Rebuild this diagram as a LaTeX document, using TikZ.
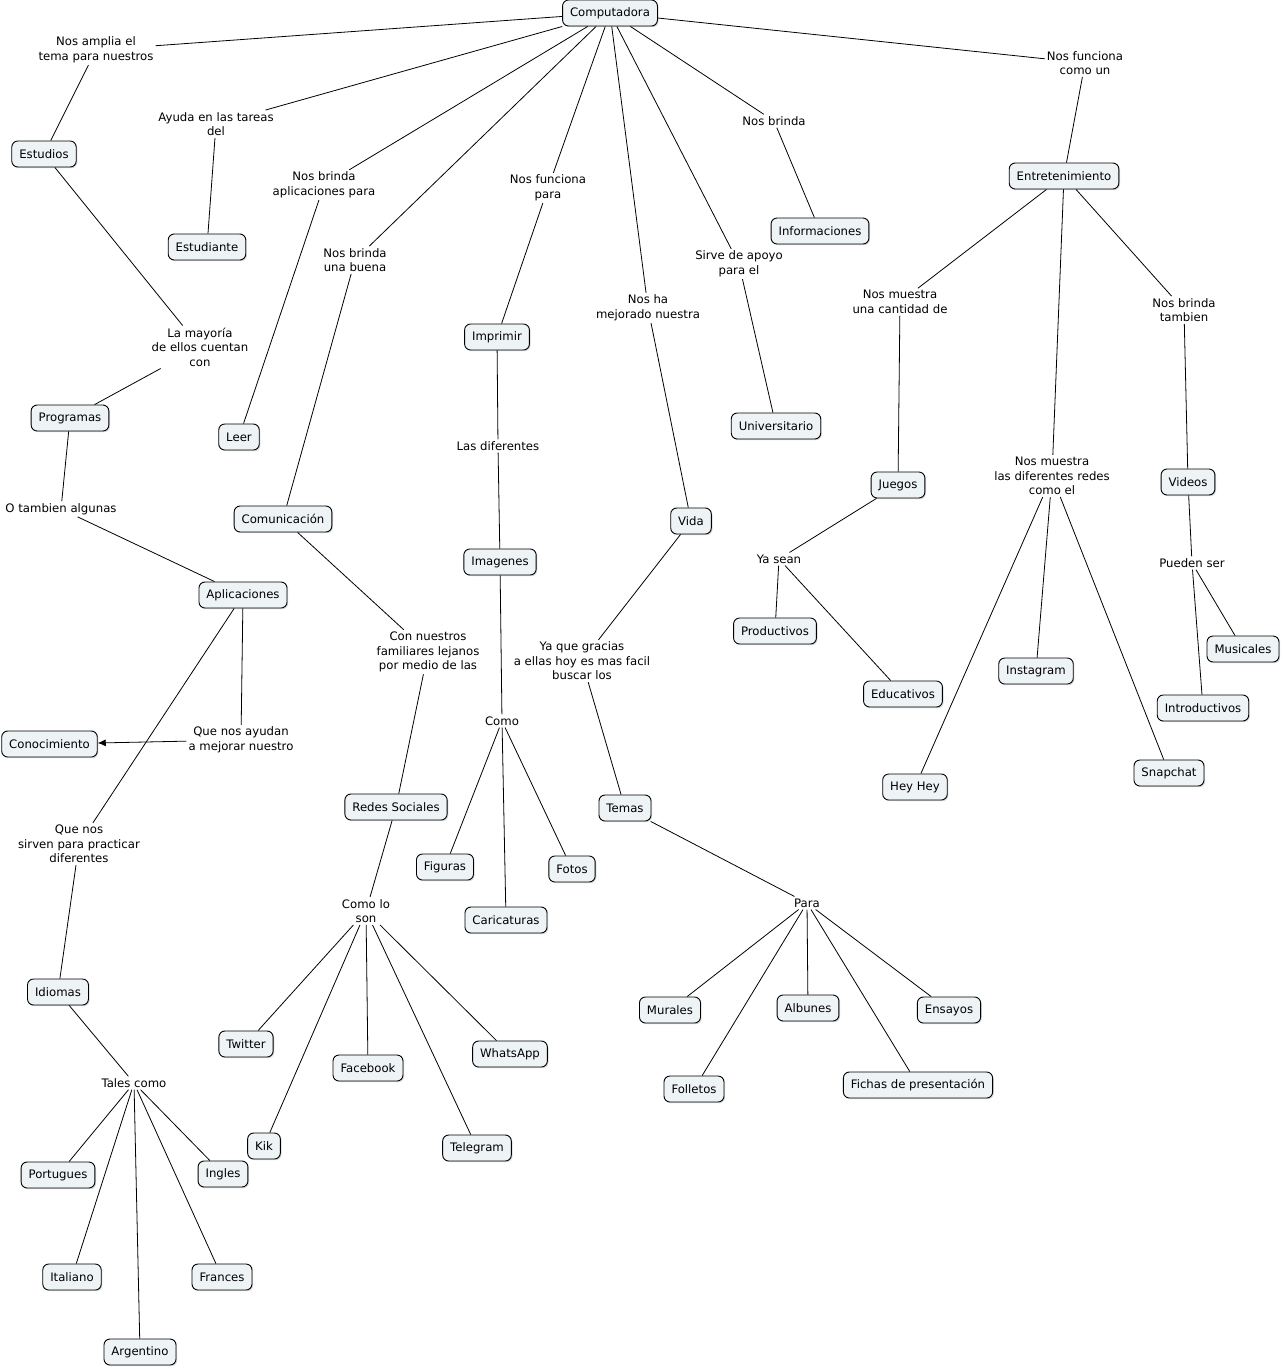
\documentclass[tikz,border=0pt]{standalone}
\usepackage{fontspec}
\setmainfont{DejaVu Sans}
\usetikzlibrary{shadows,arrows.meta}
\definecolor{cfill}{HTML}{EEF3F5}
\tikzset{
  concept/.style={draw=black, fill=cfill, rounded corners=6pt, line width=0.9pt,
    minimum height=26pt, inner xsep=7.5pt, inner ysep=3pt,
    font=\fontsize{11.7}{14}\selectfont,
    drop shadow={shadow xshift=1.2pt, shadow yshift=-1.2pt, fill=black!30, opacity=0.5}},
  lphrase/.style={inner sep=2pt, align=center, font=\fontsize{11.7}{14.5}\selectfont},
  conn/.style={line width=0.8pt, black},
}
\begin{document}
\begin{tikzpicture}[x=1pt,y=-1pt]
\useasboundingbox (0,0) rectangle (1283,1369);
% concepts
\node[concept] (comp) at (610,13) {Computadora};
\node[concept] (estudios) at (44,154) {Estudios};
\node[concept] (estudiante) at (207,247) {Estudiante};
\node[concept] (leer) at (239,437) {Leer};
\node[concept] (programas) at (70,418) {Programas};
\node[concept] (aplicaciones) at (243,595) {Aplicaciones};
\node[concept] (conocimiento) at (49.5,744) {Conocimiento};
\node[concept] (idiomas) at (58,992) {Idiomas};
\node[concept] (portugues) at (58,1175) {Portugues};
\node[concept] (ingles) at (223,1174) {Ingles};
\node[concept] (italiano) at (72,1277) {Italiano};
\node[concept] (frances) at (222,1277) {Frances};
\node[concept] (argentino) at (140,1352) {Argentino};
\node[concept] (comunicacion) at (283,519) {Comunicación};
\node[concept] (redes) at (396,807) {Redes Sociales};
\node[concept] (twitter) at (246,1044) {Twitter};
\node[concept] (facebook) at (368,1068) {Facebook};
\node[concept] (whatsapp) at (510,1054) {WhatsApp};
\node[concept] (kik) at (264,1146) {Kik};
\node[concept] (telegram) at (477,1148) {Telegram};
\node[concept] (imprimir) at (497,337) {Imprimir};
\node[concept] (imagenes) at (500,562) {Imagenes};
\node[concept] (figuras) at (445,867) {Figuras};
\node[concept] (caricaturas) at (506,920) {Caricaturas};
\node[concept] (fotos) at (572,869) {Fotos};
\node[concept] (vida) at (691,521) {Vida};
\node[concept] (temas) at (625,808) {Temas};
\node[concept] (murales) at (670,1010) {Murales};
\node[concept] (albunes) at (808,1008) {Albunes};
\node[concept] (ensayos) at (949,1010) {Ensayos};
\node[concept] (folletos) at (694,1089) {Folletos};
\node[concept] (fichas) at (918,1085) {Fichas de presentación};
\node[concept] (universitario) at (776,426) {Universitario};
\node[concept] (informaciones) at (820,231) {Informaciones};
\node[concept] (entretenimiento) at (1064,176) {Entretenimiento};
\node[concept] (juegos) at (898,485) {Juegos};
\node[concept] (productivos) at (775,631) {Productivos};
\node[concept] (educativos) at (903,694) {Educativos};
\node[concept] (instagram) at (1036,671) {Instagram};
\node[concept] (heyhey) at (915,787) {Hey Hey};
\node[concept] (snapchat) at (1169,773) {Snapchat};
\node[concept] (videos) at (1188,482) {Videos};
\node[concept] (musicales) at (1243,649) {Musicales};
\node[concept] (introductivos) at (1203,708) {Introductivos};
% linking phrases
\node[lphrase] (l1) at (96,50) {Nos amplia el\\tema para nuestros};
\node[lphrase] (l2) at (216,124) {Ayuda en las tareas\\del};
\node[lphrase] (l3) at (324,185) {Nos brinda\\aplicaciones para};
\node[lphrase] (l4) at (355,260) {Nos brinda\\una buena};
\node[lphrase] (l5) at (548,188) {Nos funciona\\para};
\node[lphrase] (l6) at (648,308) {Nos ha\\mejorado nuestra};
\node[lphrase] (l7) at (739,264) {Sirve de apoyo\\para el};
\node[lphrase] (l8) at (774,121) {Nos brinda};
\node[lphrase] (l9) at (1085,63) {Nos funciona\\como un};
\node[lphrase] (l10) at (200,347) {La mayoría\\de ellos cuentan\\con};
\node[lphrase] (l11) at (61,509) {O tambien algunas};
\node[lphrase] (l12) at (241,740) {Que nos ayudan\\a mejorar nuestro};
\node[lphrase] (l13) at (79,844) {Que nos\\sirven para practicar\\diferentes};
\node[lphrase] (l14) at (134,1083) {Tales como};
\node[lphrase] (l15) at (428,652) {Con nuestros\\familiares lejanos\\por medio de las};
\node[lphrase] (l16) at (366,911) {Como lo\\son};
\node[lphrase] (l17) at (498,446) {Las diferentes};
\node[lphrase] (l18) at (502,721) {Como};
\node[lphrase] (l19) at (582,661) {Ya que gracias\\a ellas hoy es mas facil\\buscar los};
\node[lphrase] (l20) at (807,903) {Para};
\node[lphrase] (l21) at (900,302) {Nos muestra\\una cantidad de};
\node[lphrase] (l22) at (1052,476) {Nos muestra\\las diferentes redes\\como el};
\node[lphrase] (l23) at (1184,310) {Nos brinda\\tambien};
\node[lphrase] (l24) at (779,559) {Ya sean};
\node[lphrase] (l25) at (1192,563) {Pueden ser};
% connectors
\begin{scope}[conn]
\draw (comp) -- (l1); \draw (l1) -- (estudios);
\draw (comp) -- (l2); \draw (l2) -- (estudiante);
\draw (comp) -- (l3); \draw (l3) -- (leer);
\draw (comp) -- (l4); \draw (l4) -- (comunicacion);
\draw (comp) -- (l5); \draw (l5) -- (imprimir);
\draw (comp) -- (l6); \draw (l6) -- (vida);
\draw (comp) -- (l7); \draw (l7) -- (universitario);
\draw (comp) -- (l8); \draw (l8) -- (informaciones);
\draw (comp) -- (l9); \draw (l9) -- (entretenimiento);
\draw (estudios) -- (l10); \draw (l10) -- (programas);
\draw (programas) -- (l11); \draw (l11) -- (aplicaciones);
\draw (aplicaciones) -- (l12); \draw[-{Latex[length=8pt,width=7pt]}] (l12) -- (conocimiento);
\draw (aplicaciones) -- (l13); \draw (l13) -- (idiomas);
\draw (idiomas) -- (l14);
\draw (l14) -- (portugues); \draw (l14) -- (ingles); \draw (l14) -- (italiano);
\draw (l14) -- (frances); \draw (l14) -- (argentino);
\draw (comunicacion) -- (l15); \draw (l15) -- (redes);
\draw (redes) -- (l16);
\draw (l16) -- (twitter); \draw (l16) -- (kik); \draw (l16) -- (facebook);
\draw (l16) -- (telegram); \draw (l16) -- (whatsapp);
\draw (imprimir) -- (l17); \draw (l17) -- (imagenes);
\draw (imagenes) -- (l18);
\draw (l18) -- (figuras); \draw (l18) -- (caricaturas); \draw (l18) -- (fotos);
\draw (vida) -- (l19); \draw (l19) -- (temas);
\draw (temas) -- (l20);
\draw (l20) -- (murales); \draw (l20) -- (folletos); \draw (l20) -- (albunes);
\draw (l20) -- (fichas); \draw (l20) -- (ensayos);
\draw (entretenimiento) -- (l21); \draw (l21) -- (juegos);
\draw (entretenimiento) -- (l22);
\draw (l22) -- (heyhey); \draw (l22) -- (instagram); \draw (l22) -- (snapchat);
\draw (entretenimiento) -- (l23); \draw (l23) -- (videos);
\draw (juegos) -- (l24); \draw (l24) -- (productivos); \draw (l24) -- (educativos);
\draw (videos) -- (l25); \draw (l25) -- (musicales); \draw (l25) -- (introductivos);
\end{scope}
\end{tikzpicture}
\end{document}
